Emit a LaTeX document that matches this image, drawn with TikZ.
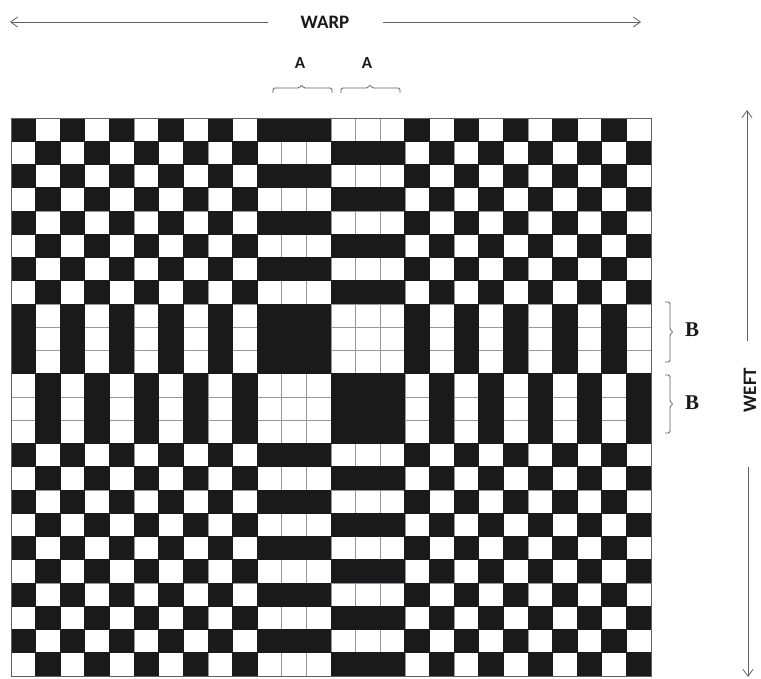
\documentclass[tikz,border=0pt]{standalone}
\usepackage{fontspec}
\setmainfont{Liberation Serif}
\newfontfamily\lblfont{Carlito}
\usetikzlibrary{arrows.meta}
\definecolor{ink}{RGB}{26,26,26}
\definecolor{gridc}{RGB}{150,150,158}
\definecolor{linec}{RGB}{95,95,105}
\begin{document}
\begin{tikzpicture}[x=1pt,y=-1pt,
  arr/.style={draw=linec,line width=0.8pt,-{Straight Barb[length=7pt,width=10pt]}},
  brk/.style={draw=linec,line width=0.8pt,rounded corners=1.5pt},
  gline/.style={draw=gridc,line width=0.7pt},
  cell/.style={fill=ink},
  lbl/.style={font=\lblfont\bfseries\fontsize{19}{19}\selectfont,text=ink,inner sep=0pt},
  albl/.style={font=\lblfont\bfseries\fontsize{17}{17}\selectfont,text=ink,inner sep=0pt},
  blbl/.style={font=\bfseries\fontsize{21}{21}\selectfont,text=ink,inner sep=0pt}]
\useasboundingbox (0,0) rectangle (761,679);
\fill[white] (0,0) rectangle (761,679);
% grid lines
\foreach \c in {0,...,26}{
  \draw[gline] ({11+\c*24.6154},118) -- ({11+\c*24.6154},676);
}
\foreach \r in {0,...,24}{
  \draw[gline] (11,{118+\r*23.25}) -- (651,{118+\r*23.25});
}
% cells
\foreach \r in {0,...,23}{
  \foreach \c in {0,...,25}{
    \pgfmathtruncatemacro{\g}{ifthenelse(\c<10,\c,ifthenelse(\c<13,10,ifthenelse(\c<16,11,\c-4)))}
    \pgfmathtruncatemacro{\h}{ifthenelse(\r<8,\r,ifthenelse(\r<11,8,ifthenelse(\r<14,9,\r-4)))}
    \pgfmathtruncatemacro{\s}{mod(\g+\h,2)}
    \ifnum\s=0
      \fill[cell] ({11+\c*24.6154-0.4},{118+\r*23.25-0.4}) rectangle ++(25.4,24.05);
    \fi
  }
}
\draw[draw=linec,line width=0.7pt] (11,118) rectangle (651,676);
% WARP
\node[lbl] (warp) at (325,22) {WARP};
\coordinate (wl) at (10,22);
\coordinate (wlb) at (268,22);
\coordinate (wrb) at (383,22);
\coordinate (wr) at (641,22);
\draw[arr] (wlb) -- (wl);
\draw[arr] (wrb) -- (wr);
% A labels and braces
\node[albl] (a1) at (300,63) {A};
\node[albl] (a2) at (367,63) {A};
\draw[brk] (273,93) -- (273,88) -- (299.5,88) -- (301.5,84.5) -- (303.5,88) -- (332,88) -- (332,93);
\draw[brk] (341,93) -- (341,88) -- (368,88) -- (370,84.5) -- (372,88) -- (400,88) -- (400,93);
% B labels and brackets
\node[blbl] (b1) at (692,330) {B};
\node[blbl] (b2) at (692,403) {B};
\draw[brk] (665,302) -- (670,302) -- (670,330) -- (673.5,332) -- (670,334) -- (670,362) -- (665,362);
\draw[brk] (665,375) -- (670,375) -- (670,402) -- (673.5,404) -- (670,406) -- (670,433) -- (665,433);
% WEFT
\node[lbl,rotate=90] (weft) at (750,390) {WEFT};
\coordinate (wt) at (747,110);
\coordinate (wtb) at (747,341);
\coordinate (wbt) at (748,467);
\coordinate (wb) at (748,677);
\draw[arr] (wtb) -- (wt);
\draw[arr] (wbt) -- (wb);
\end{tikzpicture}
\end{document}
